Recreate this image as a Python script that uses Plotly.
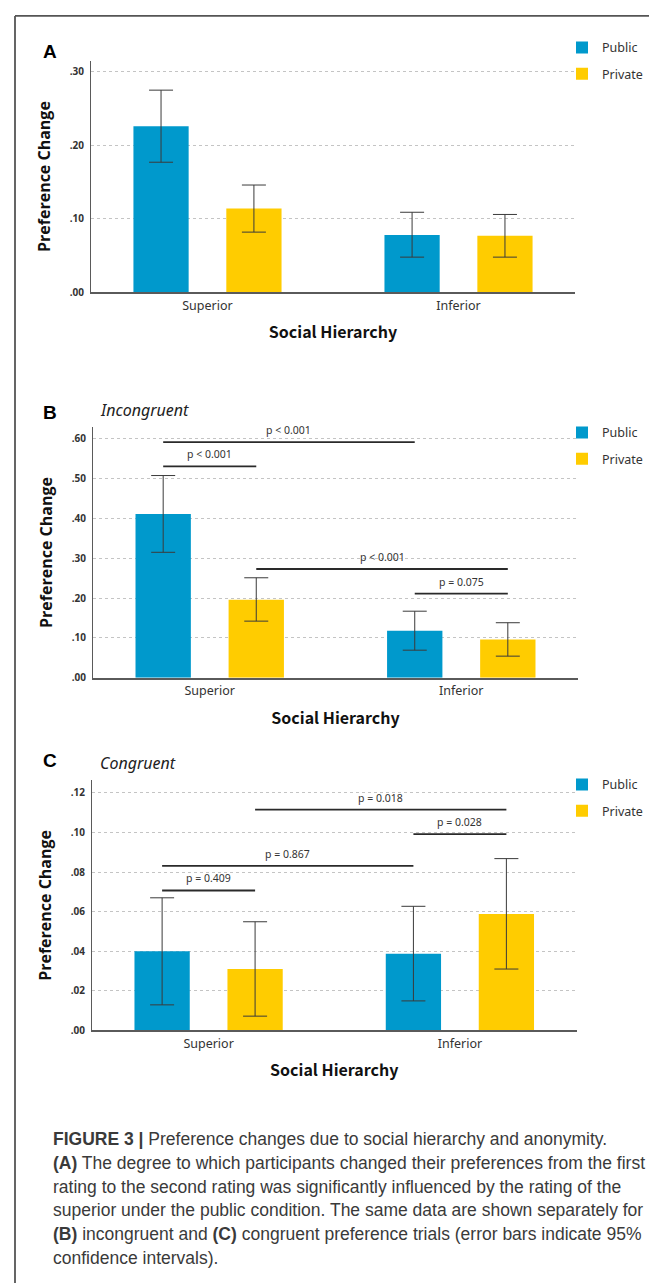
import plotly.graph_objects as go

# ---------------- data ----------------
categories = ["Superior", "Inferior"]
series = ["Public", "Private"]

# Panel A (all trials)
a_public = [0.226, 0.078]
a_public_hi = [0.275, 0.109]
a_public_lo = [0.177, 0.048]
a_private = [0.114, 0.077]
a_private_hi = [0.146, 0.106]
a_private_lo = [0.082, 0.048]

# Panel B (incongruent)
b_public = [0.411, 0.118]
b_public_hi = [0.508, 0.167]
b_public_lo = [0.315, 0.069]
b_private = [0.196, 0.096]
b_private_hi = [0.251, 0.138]
b_private_lo = [0.142, 0.054]
b_comparisons = [  # (cat1, series1, cat2, series2, level, label)
    ("Superior", "Public", "Inferior", "Public", 0.592, "p < 0.001"),
    ("Superior", "Public", "Superior", "Private", 0.531, "p < 0.001"),
    ("Superior", "Private", "Inferior", "Private", 0.273, "p < 0.001"),
    ("Inferior", "Public", "Inferior", "Private", 0.211, "p = 0.075"),
]

# Panel C (congruent)
c_public = [0.040, 0.0387]
c_public_hi = [0.067, 0.0627]
c_public_lo = [0.0129, 0.0149]
c_private = [0.031, 0.0588]
c_private_hi = [0.0549, 0.0868]
c_private_lo = [0.0072, 0.031]
c_comparisons = [
    ("Superior", "Private", "Inferior", "Private", 0.1116, "p = 0.018"),
    ("Inferior", "Public", "Inferior", "Private", 0.0992, "p = 0.028"),
    ("Superior", "Public", "Inferior", "Public", 0.0831, "p = 0.867"),
    ("Superior", "Public", "Superior", "Private", 0.0707, "p = 0.409"),
]

a_ticks = [0.0, 0.1, 0.2, 0.3]
a_ticktext = [".00", ".10", ".20", ".30"]
b_ticks = [0.0, 0.1, 0.2, 0.3, 0.4, 0.5, 0.6]
b_ticktext = [".00", ".10", ".20", ".30", ".40", ".50", ".60"]
c_ticks = [0.0, 0.02, 0.04, 0.06, 0.08, 0.10, 0.12]
c_ticktext = [".00", ".02", ".04", ".06", ".08", ".10", ".12"]

caption_lines = [
    "<b>FIGURE 3 |</b> Preference changes due to social hierarchy and anonymity.",
    "<b>(A)</b> The degree to which participants changed their preferences from the first",
    "rating to the second rating was significantly influenced by the rating of the",
    "superior under the public condition. The same data are shown separately for",
    "<b>(B)</b> incongruent and <b>(C)</b> congruent preference trials (error bars indicate 95%",
    "confidence intervals).",
]

# ---------------- style ----------------
W, H = 657, 1283
COLORS = {"Public": "#0099CC", "Private": "#FFCC00"}
BAR_W = 0.22
SERIES_OFFSET = {"Public": -0.295, "Private": 0.075}
SERIES_CENTER = {s: SERIES_OFFSET[s] + BAR_W / 2 for s in series}
XRANGE = [-0.464, 1.464]
LABEL_FONT = "Noto Sans"
TITLE_FONT = "Noto Sans CJK KR"


def px(x):
    return x / W


def py(y):
    return 1 - y / H


panels = [
    dict(key="", vals={"Public": (a_public, a_public_hi, a_public_lo),
                       "Private": (a_private, a_private_hi, a_private_lo)},
         xdom=(83, 567), ytop=53, ybot=286, ymax=0.315, ticks=a_ticks, ticktext=a_ticktext,
         comps=[], letter="A", letter_y=44, subtitle=None, sub_y=None,
         legend_top=25, legend="legend"),
    dict(key="2", vals={"Public": (b_public, b_public_hi, b_public_lo),
                        "Private": (b_private, b_private_hi, b_private_lo)},
         xdom=(85, 570), ytop=421.7, ybot=673.3, ymax=0.629, ticks=b_ticks, ticktext=b_ticktext,
         comps=b_comparisons, letter="B", letter_y=407, subtitle="Incongruent", sub_y=404,
         legend_top=412, legend="legend2"),
    dict(key="3", vals={"Public": (c_public, c_public_hi, c_public_lo),
                        "Private": (c_private, c_private_hi, c_private_lo)},
         xdom=(84, 568.5), ytop=776.7, ybot=1028, ymax=0.1263, ticks=c_ticks, ticktext=c_ticktext,
         comps=c_comparisons, letter="C", letter_y=757, subtitle="Congruent", sub_y=759,
         legend_top=766, legend="legend3"),
]

fig = go.Figure()
annotations = []
layout_extra = {}

for p in panels:
    xa = "x" + p["key"]
    ya = "y" + p["key"]
    for s in series:
        mean, hi, lo = p["vals"][s]
        fig.add_trace(go.Bar(
            x=list(range(len(categories))), y=mean,
            name=s, legendgroup=s, legend=p["legend"],
            width=BAR_W, offset=SERIES_OFFSET[s],
            marker=dict(color=COLORS[s], line=dict(width=0)),
            error_y=dict(type="data", symmetric=False,
                         array=[h - m for h, m in zip(hi, mean)],
                         arrayminus=[m - l for m, l in zip(mean, lo)],
                         color="#3a3a3a", thickness=1, width=12),
            xaxis=xa, yaxis=ya, hoverinfo="skip",
        ))
    for (c1, s1, c2, s2, lvl, lab) in p["comps"]:
        x1 = categories.index(c1) + SERIES_CENTER[s1]
        x2 = categories.index(c2) + SERIES_CENTER[s2]
        fig.add_trace(go.Scatter(
            x=[x1, x2], y=[lvl, lvl], mode="lines",
            line=dict(color="#2a2a2a", width=1.8),
            showlegend=False, hoverinfo="skip", xaxis=xa, yaxis=ya,
        ))
        annotations.append(dict(
            x=(x1 + x2) / 2, y=lvl, xref=xa, yref=ya, text=lab, showarrow=False,
            yanchor="bottom", yshift=3, font=dict(family=LABEL_FONT, size=10.5, color="#333"),
        ))

    xdom = [px(p["xdom"][0]), px(p["xdom"][1])]
    ydom = [py(p["ybot"]), py(p["ytop"])]
    layout_extra["xaxis" + p["key"]] = dict(
        domain=xdom, range=XRANGE, anchor=ya,
        tickvals=list(range(len(categories))), ticktext=categories,
        showgrid=False, zeroline=False, showline=True, linecolor="#5a5a5a", linewidth=1.6,
        ticks="", ticklabelstandoff=1,
        tickfont=dict(family=LABEL_FONT, size=12.5, color="#333"),
        title=dict(text="Social Hierarchy", standoff=14,
                   font=dict(family=TITLE_FONT, size=16, color="#111", weight="bold")),
        fixedrange=True,
    )
    layout_extra["yaxis" + p["key"]] = dict(
        domain=ydom, range=[0, p["ymax"]], anchor=xa,
        tickvals=p["ticks"], ticktext=p["ticktext"],
        showgrid=True, gridcolor="#c4c4c4", griddash="dot", gridwidth=1,
        zeroline=False, showline=True, linecolor="#5a5a5a", linewidth=1.2,
        ticks="", ticklabelstandoff=4,
        tickfont=dict(family=LABEL_FONT, size=10, color="#333", weight="bold"),
        title=dict(text="Preference Change", standoff=15,
                   font=dict(family="Open Sans", size=16, color="#111", weight="bold")),
        fixedrange=True,
    )
    layout_extra[p["legend"]] = dict(
        x=px(554), y=py(p["legend_top"]), xanchor="left", yanchor="top",
        bgcolor="rgba(0,0,0,0)", tracegroupgap=7, traceorder="grouped",
        font=dict(family=LABEL_FONT, size=12.5, color="#333"),
    )
    annotations.append(dict(
        x=px(42), y=py(p["letter_y"]), xref="paper", yref="paper", text=p["letter"],
        showarrow=False, xanchor="center", yanchor="middle",
        font=dict(family="Liberation Sans", size=19, color="#000", weight="bold"),
    ))
    if p["subtitle"]:
        annotations.append(dict(
            x=px(90), y=py(p["sub_y"]), xref="paper", yref="paper", text=p["subtitle"],
            showarrow=False, xanchor="left", yanchor="middle",
            font=dict(family=LABEL_FONT, size=16, color="#222", style="italic"),
        ))

caption_y = [1137, 1161, 1185, 1209, 1233, 1257]
for line, yy in zip(caption_lines, caption_y):
    annotations.append(dict(
        x=px(43), y=py(yy), xref="paper", yref="paper", text=line, showarrow=False,
        xanchor="left", yanchor="middle",
        font=dict(family="Liberation Sans", size=17.5, color="#3a3a3a"),
    ))

shapes = [
    dict(type="line", xref="paper", yref="paper", x0=px(7), x1=1, y0=py(8), y1=py(8),
         line=dict(color="#555", width=1.8)),
    dict(type="line", xref="paper", yref="paper", x0=px(7), x1=px(7), y0=py(8), y1=0,
         line=dict(color="#555", width=1.8)),
]

fig.update_layout(
    width=W, height=H, margin=dict(l=0, r=0, t=0, b=0),
    paper_bgcolor="white", plot_bgcolor="white",
    barmode="overlay", showlegend=True,
    annotations=annotations, shapes=shapes,
    **layout_extra,
)

fig.write_html("out.html")
